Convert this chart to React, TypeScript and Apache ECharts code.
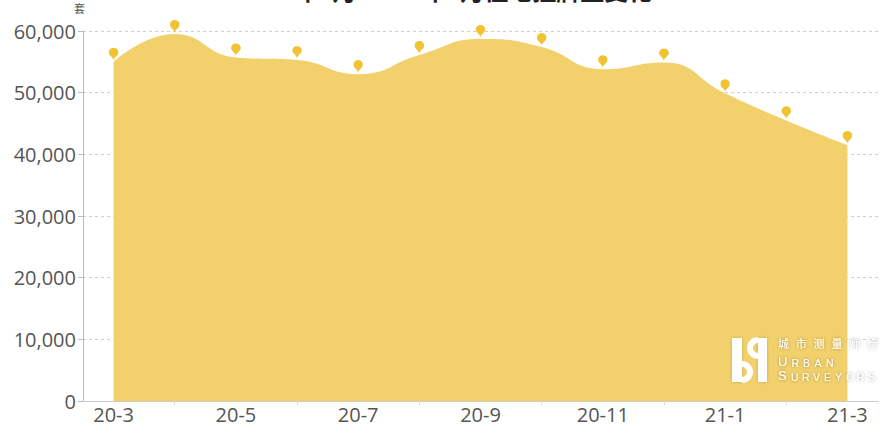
import React, { useEffect, useRef } from 'react';
import * as echarts from 'echarts';

const categories = ['20-3', '20-4', '20-5', '20-6', '20-7', '20-8', '20-9', '20-10', '20-11', '20-12', '21-1', '21-2', '21-3'];
const stockValues = [55000, 59500, 55700, 55300, 53000, 56100, 58700, 57400, 53800, 54900, 49900, 45500, 41500];
const titleText = '2020年3月-2021年3月住宅挂牌量变化';
const unitName = '套';
const wmChinese = ['城', '市', '测', '量', '师', '行'];
const wmLine1 = ['U', 'R', 'B', 'A', 'N'];
const wmLine2 = ['S', 'U', 'R', 'V', 'E', 'Y', 'O', 'R', 'S'];

const AREA = '#f2d06b';
const PIN = '#f1c232';
const FONT = '"Open Sans", "Noto Sans", sans-serif';

export default function App() {
  const ref = useRef<HTMLDivElement>(null);
  useEffect(() => {
    document.body.style.margin = '0';
    const chart = echarts.init(ref.current!, null, { renderer: 'svg' });
    const white = '#ffffff';
    const shadow = { textShadowColor: 'rgba(0,0,0,0.4)', textShadowBlur: 3 };
    const graphics: any[] = [
      { type: 'rect', z: 100, shape: { x: 732, y: 338, width: 10, height: 44 }, style: { fill: white, shadowColor: 'rgba(0,0,0,0.2)', shadowBlur: 3 } },
      { type: 'arc', z: 100, shape: { cx: 742, cy: 372, r: 8, startAngle: -Math.PI / 2, endAngle: Math.PI / 2 }, style: { stroke: white, lineWidth: 6, fill: 'none' } },
      { type: 'rect', z: 100, shape: { x: 758, y: 338, width: 9, height: 44 }, style: { fill: white, shadowColor: 'rgba(0,0,0,0.2)', shadowBlur: 3 } },
      { type: 'arc', z: 100, shape: { cx: 758, cy: 348, r: 8, startAngle: Math.PI / 2, endAngle: Math.PI * 1.5 }, style: { stroke: white, lineWidth: 6, fill: 'none' } },
      { type: 'line', z: 100, shape: { x1: 778, y1: 352, x2: 877, y2: 352 }, style: { stroke: white, lineWidth: 1.5, shadowColor: 'rgba(0,0,0,0.3)', shadowBlur: 2 } },
      ...wmChinese.map((c, i) => ({
        type: 'text', z: 100, x: 778 + i * 17.8, y: 337,
        style: { text: c, fill: white, fontSize: 11, fontFamily: 'Noto Sans CJK SC', verticalAlign: 'top', ...shadow },
      })),
      ...wmLine1.map((c, i) => ({
        type: 'text', z: 100, x: 778 + (i === 0 ? 0 : 2 + i * 11.5), y: i === 0 ? 355 : 357.5,
        style: { text: c, fill: white, fontSize: i === 0 ? 13 : 10.5, fontFamily: 'Liberation Sans', verticalAlign: 'top', ...shadow },
      })),
      ...wmLine2.map((c, i) => ({
        type: 'text', z: 100, x: 778 + (i === 0 ? 0 : 2 + i * 11), y: i === 0 ? 368.5 : 371,
        style: { text: c, fill: white, fontSize: i === 0 ? 13 : 10.5, fontFamily: 'Liberation Sans', verticalAlign: 'top', ...shadow },
      })),
    ];
    const option: any = {
      animation: false,
      title: {
        text: titleText,
        left: 'center',
        top: -28,
        textStyle: { fontSize: 24, fontWeight: 'bold', color: '#222', fontFamily: 'Noto Sans CJK SC' },
      },
      grid: { left: 83, right: 12, top: 31, bottom: 27, containLabel: false },
      xAxis: {
        type: 'category',
        data: categories,
        boundaryGap: true,
        axisLine: { lineStyle: { color: '#ccc' } },
        axisTick: { show: true, alignWithLabel: true, interval: (i: number) => i % 2 === 1, length: 4, lineStyle: { color: '#ddd' } },
        axisLabel: { interval: 1, fontSize: 20, color: '#555', margin: 3, fontFamily: FONT },
      },
      yAxis: {
        type: 'value',
        min: 0,
        max: 60000,
        interval: 10000,
        name: unitName,
        nameLocation: 'end',
        nameGap: 18,
        nameTextStyle: { fontSize: 11, color: '#555', padding: [0, 7, 0, 0], fontFamily: 'Noto Sans CJK SC' },
        axisLine: { show: true, lineStyle: { color: '#bbb' } },
        axisTick: { show: true, length: 5, lineStyle: { color: '#bbb' } },
        axisLabel: {
          fontSize: 20, color: '#555', margin: 7, fontFamily: FONT,
          formatter: (v: number) => v.toLocaleString('en-US'),
        },
        splitLine: { show: true, lineStyle: { type: [3, 3], color: '#cdd0d8' } },
      },
      series: [
        {
          type: 'line',
          data: stockValues,
          smooth: true,
          showSymbol: false,
          symbol: 'none',
          lineStyle: { width: 0, color: AREA },
          itemStyle: { color: AREA },
          areaStyle: { color: AREA, opacity: 1 },
          markPoint: {
            symbol: 'pin',
            symbolSize: [16, 15],
            symbolOffset: [0, -1],
            itemStyle: { color: PIN },
            label: { show: false },
            data: stockValues.map((v, i) => ({ coord: [categories[i], v], value: v })),
          },
        },
      ],
      graphic: graphics,
    };
    chart.setOption(option);
    return () => chart.dispose();
  }, []);
  return <div ref={ref} style={{ width: 890, height: 428 }} />;
}
